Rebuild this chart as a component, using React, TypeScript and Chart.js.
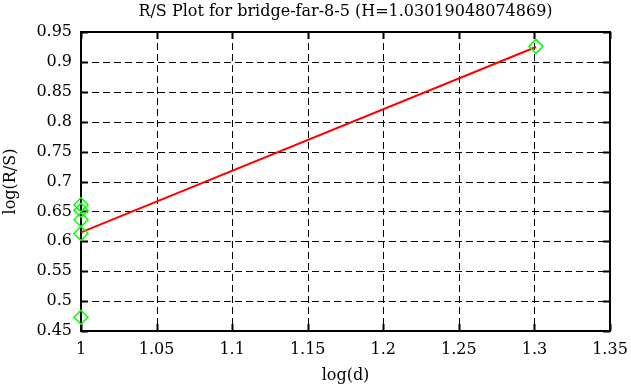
import React, { useEffect, useRef } from "react";
import { Chart, registerables } from "chart.js";

Chart.register(...registerables);

const chartTitle = "R/S Plot for bridge-far-8-5 (H=1.03019048074869)";
const xAxisTitle = "log(d)";
const yAxisTitle = "log(R/S)";

const pointX = [1, 1, 1, 1, 1, 1.30103];
const pointY = [0.473, 0.613, 0.636, 0.652, 0.661, 0.926];

const fitX = [1, 1.30103];
const fitY = [0.615, 0.925];

const xTicks = [1, 1.05, 1.1, 1.15, 1.2, 1.25, 1.3, 1.35];
const yTicks = [0.45, 0.5, 0.55, 0.6, 0.65, 0.7, 0.75, 0.8, 0.85, 0.9, 0.95];

const FONT = '"DejaVu Serif", "Liberation Serif", serif';
const FONT_SIZE = 16;

const framePlugin = {
  id: "frame",
  beforeDatasetsDraw(chart: any) {
    const { ctx, chartArea } = chart;
    const { left, right, top, bottom } = chartArea;
    const xs = chart.scales.x;
    const ys = chart.scales.y;
    ctx.save();
    ctx.strokeStyle = "#000";
    ctx.lineWidth = 1;
    ctx.setLineDash([7, 4]);
    ctx.beginPath();
    xTicks.forEach((v) => {
      const px = Math.round(xs.getPixelForValue(v)) + 0.5;
      if (px <= left + 2 || px >= right - 2) return;
      ctx.moveTo(px, top);
      ctx.lineTo(px, bottom);
    });
    yTicks.forEach((v) => {
      const py = Math.round(ys.getPixelForValue(v)) + 0.5;
      if (py <= top + 2 || py >= bottom - 2) return;
      ctx.moveTo(left, py);
      ctx.lineTo(right, py);
    });
    ctx.stroke();
    ctx.setLineDash([]);
    ctx.lineWidth = 2;
    ctx.beginPath();
    const tl = 7;
    xTicks.forEach((v) => {
      const px = Math.round(xs.getPixelForValue(v)) + 0.5;
      ctx.moveTo(px, bottom);
      ctx.lineTo(px, bottom - tl);
      ctx.moveTo(px, top);
      ctx.lineTo(px, top + tl);
    });
    yTicks.forEach((v) => {
      const py = Math.round(ys.getPixelForValue(v)) + 0.5;
      ctx.moveTo(left, py);
      ctx.lineTo(left + tl, py);
      ctx.moveTo(right, py);
      ctx.lineTo(right - tl, py);
    });
    ctx.stroke();
    ctx.beginPath();
    ctx.rect(Math.round(left), Math.round(top), Math.round(right - left), Math.round(bottom - top));
    ctx.stroke();
    ctx.restore();
  },
  afterDraw(chart: any) {
    const { ctx, chartArea } = chart;
    ctx.save();
    ctx.fillStyle = "#000";
    ctx.font = `${FONT_SIZE}px ${FONT}`;
    ctx.textAlign = "center";
    ctx.textBaseline = "alphabetic";
    ctx.fillText(chartTitle, (chartArea.left + chartArea.right) / 2, 16);
    ctx.restore();
  },
};

export default function App() {
  const ref = useRef<HTMLCanvasElement | null>(null);
  useEffect(() => {
    document.body.style.margin = "0";
    if (!ref.current) return;
    const chart = new Chart(ref.current, {
      type: "scatter",
      data: {
        datasets: [
          {
            type: "line",
            label: "fit",
            data: fitX.map((x, i) => ({ x, y: fitY[i] })),
            borderColor: "#ff0000",
            borderWidth: 2,
            pointRadius: 0,
            fill: false,
            clip: false as any,
            order: 2,
          },
          {
            label: "points",
            data: pointX.map((x, i) => ({ x, y: pointY[i] })),
            pointStyle: "rectRot",
            pointRadius: 7,
            pointBorderColor: "#00ff00",
            pointBackgroundColor: "rgba(0,0,0,0)",
            pointBorderWidth: 1.5,
            borderColor: "#00ff00",
            backgroundColor: "rgba(0,0,0,0)",
            showLine: false,
            clip: false as any,
            order: 1,
          },
        ] as any,
      },
      options: {
        animation: false,
        responsive: false,
        maintainAspectRatio: false,
        layout: { padding: { left: 0, right: 21, top: 32, bottom: 0 } },
        plugins: {
          legend: { display: false },
          tooltip: { enabled: false },
          title: { display: false },
        },
        scales: {
          x: {
            type: "linear",
            min: 1,
            max: 1.35,
            afterBuildTicks: (s: any) => {
              s.ticks = xTicks.map((v) => ({ value: v }));
            },
            afterFit: (s: any) => {
              s.height = 56;
              s.paddingLeft = 0;
              s.paddingRight = 0;
            },
            grid: { display: false, drawTicks: false },
            border: { display: false },
            ticks: {
              color: "#000",
              font: { family: FONT, size: FONT_SIZE },
              padding: 9,
              maxRotation: 0,
              callback: (v: any) => String(parseFloat(Number(v).toFixed(2))),
            },
            title: {
              display: true,
              text: xAxisTitle,
              color: "#000",
              font: { family: FONT, size: FONT_SIZE },
              padding: { top: 0, bottom: 2 },
            },
          },
          y: {
            type: "linear",
            min: 0.45,
            max: 0.95,
            afterBuildTicks: (s: any) => {
              s.ticks = yTicks.map((v) => ({ value: v }));
            },
            afterFit: (s: any) => {
              s.width = 81;
              s.paddingTop = 0;
              s.paddingBottom = 0;
            },
            grid: { display: false, drawTicks: false },
            border: { display: false },
            ticks: {
              color: "#000",
              font: { family: FONT, size: FONT_SIZE },
              padding: 9,
              callback: (v: any) => String(parseFloat(Number(v).toFixed(2))),
            },
            title: {
              display: true,
              text: yAxisTitle,
              color: "#000",
              font: { family: FONT, size: FONT_SIZE },
              padding: { top: 1, bottom: 0 },
            },
          },
        },
      },
      plugins: [framePlugin],
    });
    return () => chart.destroy();
  }, []);
  return (
    <div style={{ width: 631, height: 387, background: "#fff" }}>
      <canvas ref={ref} width={631} height={387} />
    </div>
  );
}
